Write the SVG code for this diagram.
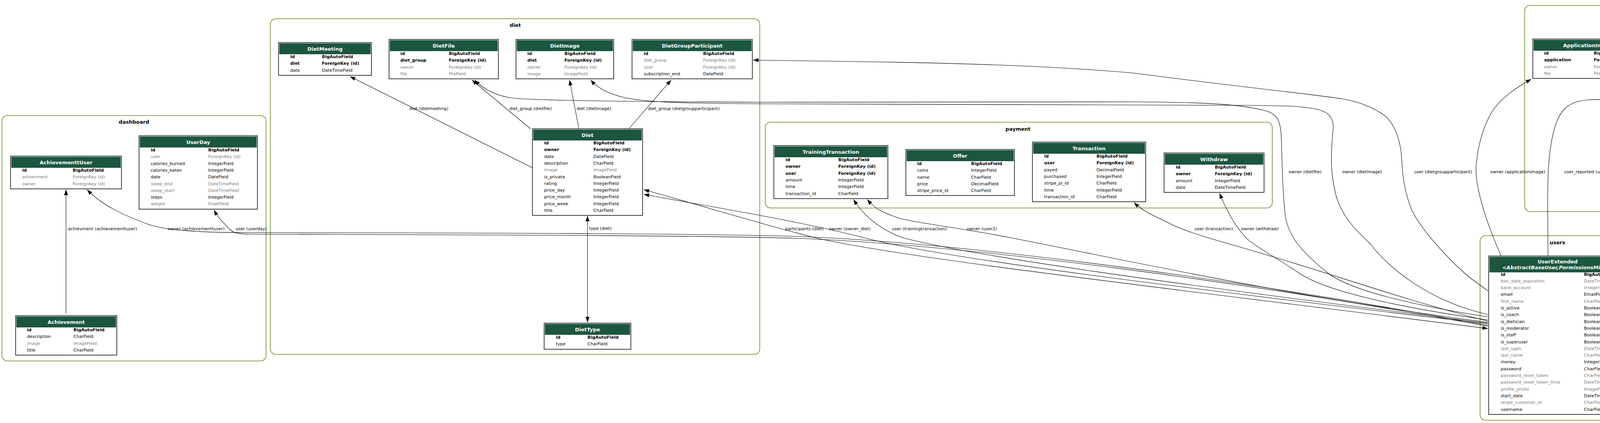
<svg xmlns="http://www.w3.org/2000/svg" width="7240" height="1084" viewBox="0 0 7240 1084">
<style>
.cl{fill:none;stroke:#698b22;stroke-width:1.6}
.ct{font-family:"DejaVu Sans",sans-serif;font-size:13px;font-weight:bold;text-anchor:middle;dominant-baseline:central;fill:#000}
.tb{fill:#fff;stroke:#000;stroke-width:1.5}
.hd{fill:#1b563f}
.ht{font-family:"DejaVu Sans",sans-serif;font-size:13px;font-weight:bold;fill:#fff;text-anchor:middle;dominant-baseline:central}
.r{font-family:"DejaVu Sans",sans-serif;font-size:11px;dominant-baseline:central;fill:#000}
.b{font-weight:bold}
.g{fill:#7b7b7b}
.i{font-style:italic}
.e{fill:none;stroke:#000;stroke-width:1.1;marker-end:url(#ah)}
.e2{marker-start:url(#ah)}
.el{font-family:"DejaVu Sans",sans-serif;font-size:11px;dominant-baseline:central;fill:#000}
</style>
<defs>
<marker id="ah" viewBox="0 0 14 10" refX="14" refY="5" markerWidth="14" markerHeight="10" markerUnits="userSpaceOnUse" orient="auto-start-reverse"><path d="M0,0L14,5L0,10z" fill="#000"/></marker>
</defs>
<rect width="7240" height="1084" fill="#fff"/>
<g id="clusters">
<rect class="cl" x="5" y="296" width="676" height="629" rx="14"/><text class="ct" x="343" y="312">dashboard</text>
<rect class="cl" x="692" y="48" width="1253" height="860" rx="14"/><text class="ct" x="1319" y="64">diet</text>
<rect class="cl" x="1959" y="313" width="1298" height="220" rx="14"/><text class="ct" x="2606" y="330">payment</text>
<rect class="cl" x="3903" y="14" width="669" height="528" rx="14"/><text class="ct" x="4238" y="31">moderator</text>
<rect class="cl" x="4634" y="40" width="292" height="467" rx="14"/><text class="ct" x="4779" y="57">forum</text>
<rect class="cl" x="5056" y="322" width="595" height="203" rx="14"/><text class="ct" x="5353" y="339">message</text>
<rect class="cl" x="5833" y="5" width="1401" height="913" rx="14"/><text class="ct" x="6532" y="22">training</text>
<rect class="cl" x="3789" y="604" width="397" height="473" rx="14"/><text class="ct" x="3987" y="621">users</text>
</g>
<g id="connectors">
<path class="e" d="M169,803L169,486"/>
<path class="e" d="M3809,834C3200,720 2500,625 2050,606C1800,598 1200,597 640,596C520,596 430,592 380,575C320,553 262,527 223,486"/>
<path class="e" d="M3809,836C3200,724 2500,630 2050,611C1800,603 1200,602 640,600C612,600 598,597 588,588C572,570 558,558 548,538"/>
<path class="e e2" d="M3809,842C3000,740 2300,660 2086,609C1950,575 1780,522 1648,486"/>
<path class="e" d="M3809,830C3000,735 2400,660 2211,609C2050,567 1820,530 1648,498"/>
<path class="e" d="M3809,828C3100,740 2500,660 2310,609C2260,590 2215,560 2185,511"/>
<path class="e" d="M3809,826C3300,760 2900,670 2586,609C2450,582 2330,570 2296,557C2260,545 2240,535 2220,511"/>
<path class="e" d="M3809,823C3600,770 3450,715 3252,656C3150,625 3050,600 3001,576C2960,555 2930,545 2903,519"/>
<path class="e" d="M3809,820C3600,790 3400,750 3326,700C3260,655 3200,625 3184,603C3160,575 3140,540 3122,495"/>
<path class="e" d="M3809,812C3600,780 3450,740 3400,700C3330,645 3295,600 3290,549C3282,480 3282,400 3280,348C3278,310 3270,292 3240,284C3180,268 3100,262 2900,261L1945,262C1600,260 1350,258 1304,250C1260,242 1235,225 1215,205"/>
<path class="e" d="M3809,806C3650,770 3550,680 3508,625C3460,580 3434,549 3420,500C3405,440 3407,400 3412,339C3418,300 3400,285 3366,279C3330,272 3300,271 3200,270L1945,266C1750,265 1650,262 1599,250C1555,240 1530,225 1512,205"/>
<path class="e" d="M3809,745C3780,725 3760,710 3745,696C3700,655 3640,590 3615,540C3590,480 3590,430 3588,402C3585,360 3570,310 3536,290C3500,268 3470,260 3441,254C3350,240 3200,226 2900,187C2600,160 2200,158 1928,154"/>
<path class="e" d="M3843,656C3800,560 3775,470 3779,424C3785,360 3800,320 3820,285C3845,250 3880,225 3920,203"/>
<path class="e" d="M3963,656L3962,520C3962,430 3966,370 3983,317C3995,285 4010,268 4040,260C4080,250 4120,258 4168,260C4200,262 4225,255 4251,238"/>
<path class="e" d="M4163,656C4190,620 4230,570 4263,529"/>
<path class="e" d="M4166,800C4280,760 4400,690 4470,600C4530,530 4540,470 4530,410C4515,340 4495,290 4474,238"/>
<path class="e" d="M4166,777C4300,710 4450,650 4560,590C4620,555 4670,530 4703,494"/>
<path class="e" d="M4166,822C4500,800 4830,700 4881,600C4930,510 4985,470 4968,400C4955,330 4900,250 4867,212"/>
<path class="e" d="M4166,825C4550,800 4870,660 4964,600C5010,570 5040,560 5065,548C5090,535 5110,522 5131,503"/>
<path class="e" d="M4166,828C4600,805 5030,680 5099,600C5130,565 5160,530 5180,503"/>
<path class="e" d="M4166,831C4650,810 5100,660 5203,600C5230,588 5300,580 5340,565C5375,550 5400,535 5424,512"/>
<path class="e" d="M4166,834C4900,800 5520,700 5599,600C5650,540 5675,470 5685,420C5695,360 5700,300 5740,260C5770,230 5800,212 5853,200"/>
<path class="e e2" d="M4166,852C5000,830 5720,700 5830,600C5880,555 5905,490 5914,440C5925,380 5930,300 5968,264C6000,235 6040,250 6080,256C6130,263 6170,260 6210,246"/>
<path class="e" d="M4166,836C5100,810 5950,700 6098,600C6085,540 6078,490 6078,440C6078,360 6085,300 6108,275C6150,240 6250,253 6350,253L6526,253C6570,253 6600,235 6625,203"/>
<path class="e" d="M4166,839C5200,815 6150,720 6270,600C6290,560 6282,490 6282,440C6282,360 6290,300 6317,275C6350,250 6420,253 6500,253L6860,253C6920,253 6955,235 6979,203"/>
<path class="e" d="M4166,844C5200,830 5950,660 6108,600C6200,570 6320,590 6396,574C6430,566 6460,560 6495,550"/>
<path class="e" d="M6513,330C6490,300 6470,290 6420,288C6360,287 6300,282 6250,270C6180,250 6130,240 6098,203"/>
<path class="e" d="M6606,330C6595,290 6570,265 6526,247"/>
<path class="e" d="M6732,330C6748,280 6760,250 6743,203"/>
<path class="e" d="M6785,388C6880,330 6950,300 6985,270C7005,250 7020,230 7028,203"/>
<path class="e e2" d="M6637,554L6637,816"/>
<path class="e" d="M4253,357L4120,203"/>
<path class="e e2" d="M4780,389L4780,212"/>
<path class="e" d="M1363,430L896,196"/>
<path class="e" d="M1358,330L1208,205"/>
<path class="e" d="M1482,330L1458,205"/>
<path class="e" d="M1610,330L1718,205"/>
<path class="e e2" d="M1504,553L1504,826"/>
<text class="el" x="174" y="586">achievment (achievementtuser)</text>
<text class="el" x="429" y="586">owner (achievementtuser)</text>
<text class="el" x="603" y="586">user (userday)</text>
<text class="el" x="1048" y="278">diet (dietmeeting)</text>
<text class="el" x="1304" y="278">diet_group (dietfile)</text>
<text class="el" x="1476" y="278">diet (dietimage)</text>
<text class="el" x="1659" y="278">diet_group (dietgroupparticipant)</text>
<text class="el" x="1508" y="585">type (diet)</text>
<text class="el" x="2010" y="586">participants (diet)</text>
<text class="el" x="2122" y="586">owner (owner_diet)</text>
<text class="el" x="2283" y="586">user (trainingtransaction)</text>
<text class="el" x="2475" y="586">owner (user2)</text>
<text class="el" x="3058" y="586">user (transaction)</text>
<text class="el" x="3177" y="586">owner (withdraw)</text>
<text class="el" x="3299" y="440">owner (dietfile)</text>
<text class="el" x="3436" y="440">owner (dietimage)</text>
<text class="el" x="3620" y="440">user (dietgroupparticipant)</text>
<text class="el" x="3815" y="440">owner (applicationimage)</text>
<text class="el" x="4004" y="440">user_reported (user_reported)</text>
<text class="el" x="4188" y="278">application (applicationimage)</text>
<text class="el" x="4218" y="586">owner (application)</text>
<text class="el" x="4536" y="440">owner (report)</text>
<text class="el" x="4574" y="586">owner (post)</text>
<text class="el" x="4785" y="278">posts (topic)</text>
<text class="el" x="4974" y="440">owner (topic)</text>
<text class="el" x="5014" y="586">sender (sender)</text>
<text class="el" x="5124" y="586">receiver (receiver)</text>
<text class="el" x="5299" y="586">user (notification)</text>
<text class="el" x="5710" y="440">user (traininggroupparticipant)</text>
<text class="el" x="5936" y="440">participants (training)</text>
<text class="el" x="6108" y="440">owner (traininggroupimage)</text>
<text class="el" x="6303" y="440">owner (traininggroupvideo)</text>
<text class="el" x="6396" y="586">owner (owner)</text>
<text class="el" x="6640" y="586">type (traininggroup)</text>
<text class="el" x="6344" y="278">training_group (traininggroupparticipant)</text>
<text class="el" x="6594" y="278">training_group (training)</text>
<text class="el" x="6762" y="278">training_group (traininggroupimage)</text>
<text class="el" x="6984" y="278">training_group (traininggroupvideo)</text>
</g>
<g id="n-AchievementtUser" transform="translate(27,400)">
<rect class="tb" width="284" height="84"/><rect class="hd" x="2" y="2" width="280" height="28"/><text class="ht" x="142" y="16">AchievementtUser</text>
<text class="r b" x="30" y="36.5">id</text><text class="r b" x="159" y="36.5">BigAutoField</text>
<text class="r g" x="30" y="53.8">achievment</text><text class="r g" x="159" y="53.8">ForeignKey (id)</text>
<text class="r g" x="30" y="71.1">owner</text><text class="r g" x="159" y="71.1">ForeignKey (id)</text>
</g>
<g id="n-UserDay" transform="translate(356,348)">
<rect class="tb" width="303" height="188"/><rect class="hd" x="2" y="2" width="299" height="28"/><text class="ht" x="151.5" y="16">UserDay</text>
<text class="r b" x="30" y="36.5">id</text><text class="r b" x="177" y="36.5">BigAutoField</text>
<text class="r g" x="30" y="53.8">user</text><text class="r g" x="177" y="53.8">ForeignKey (id)</text>
<text class="r" x="30" y="71.1">calories_burned</text><text class="r" x="177" y="71.1">IntegerField</text>
<text class="r" x="30" y="88.4">calories_eaten</text><text class="r" x="177" y="88.4">IntegerField</text>
<text class="r" x="30" y="105.7">date</text><text class="r" x="177" y="105.7">DateField</text>
<text class="r g" x="30" y="123">sleep_end</text><text class="r g" x="177" y="123">DateTimeField</text>
<text class="r g" x="30" y="140.3">sleep_start</text><text class="r g" x="177" y="140.3">DateTimeField</text>
<text class="r" x="30" y="157.6">steps</text><text class="r" x="177" y="157.6">IntegerField</text>
<text class="r g" x="30" y="174.9">weight</text><text class="r g" x="177" y="174.9">FloatField</text>
</g>
<g id="n-Achievement" transform="translate(40,809)">
<rect class="tb" width="259" height="101"/><rect class="hd" x="2" y="2" width="255" height="28"/><text class="ht" x="129.5" y="16">Achievement</text>
<text class="r b" x="29" y="36.5">id</text><text class="r b" x="148" y="36.5">BigAutoField</text>
<text class="r" x="29" y="53.8">description</text><text class="r" x="148" y="53.8">CharField</text>
<text class="r g" x="29" y="71.1">image</text><text class="r g" x="148" y="71.1">ImageField</text>
<text class="r" x="29" y="88.4">title</text><text class="r" x="148" y="88.4">CharField</text>
</g>
<g id="n-DietMeeting" transform="translate(713,109)">
<rect class="tb" width="238" height="84"/><rect class="hd" x="2" y="2" width="234" height="28"/><text class="ht" x="119" y="16">DietMeeting</text>
<text class="r b" x="30" y="36.5">id</text><text class="r b" x="111" y="36.5">BigAutoField</text>
<text class="r b" x="30" y="53.8">diet</text><text class="r b" x="111" y="53.8">ForeignKey (id)</text>
<text class="r" x="30" y="71.1">date</text><text class="r" x="111" y="71.1">DateTimeField</text>
</g>
<g id="n-DietFile" transform="translate(996,101)">
<rect class="tb" width="280" height="101"/><rect class="hd" x="2" y="2" width="276" height="28"/><text class="ht" x="140" y="16">DietFile</text>
<text class="r b" x="29" y="36.5">id</text><text class="r b" x="153" y="36.5">BigAutoField</text>
<text class="r b" x="29" y="53.8">diet_group</text><text class="r b" x="153" y="53.8">ForeignKey (id)</text>
<text class="r g" x="29" y="71.1">owner</text><text class="r g" x="153" y="71.1">ForeignKey (id)</text>
<text class="r g" x="29" y="88.4">file</text><text class="r g" x="153" y="88.4">FileField</text>
</g>
<g id="n-DietImage" transform="translate(1321,101)">
<rect class="tb" width="250" height="101"/><rect class="hd" x="2" y="2" width="246" height="28"/><text class="ht" x="125" y="16">DietImage</text>
<text class="r b" x="29" y="36.5">id</text><text class="r b" x="124" y="36.5">BigAutoField</text>
<text class="r b" x="29" y="53.8">diet</text><text class="r b" x="124" y="53.8">ForeignKey (id)</text>
<text class="r g" x="29" y="71.1">owner</text><text class="r g" x="124" y="71.1">ForeignKey (id)</text>
<text class="r g" x="29" y="88.4">image</text><text class="r g" x="124" y="88.4">ImageField</text>
</g>
<g id="n-DietGroupParticipant" transform="translate(1618,101)">
<rect class="tb" width="308" height="101"/><rect class="hd" x="2" y="2" width="304" height="28"/><text class="ht" x="154" y="16">DietGroupParticipant</text>
<text class="r b" x="30" y="36.5">id</text><text class="r b" x="182" y="36.5">BigAutoField</text>
<text class="r g" x="30" y="53.8">diet_group</text><text class="r g" x="182" y="53.8">ForeignKey (id)</text>
<text class="r g" x="30" y="71.1">user</text><text class="r g" x="182" y="71.1">ForeignKey (id)</text>
<text class="r" x="30" y="88.4">subscription_end</text><text class="r" x="182" y="88.4">DateField</text>
</g>
<g id="n-Diet" transform="translate(1363,330)">
<rect class="tb" width="282" height="222"/><rect class="hd" x="2" y="2" width="278" height="28"/><text class="ht" x="141" y="16">Diet</text>
<text class="r b" x="30" y="36.5">id</text><text class="r b" x="156" y="36.5">BigAutoField</text>
<text class="r b" x="30" y="53.8">owner</text><text class="r b" x="156" y="53.8">ForeignKey (id)</text>
<text class="r" x="30" y="71.1">date</text><text class="r" x="156" y="71.1">DateField</text>
<text class="r" x="30" y="88.4">description</text><text class="r" x="156" y="88.4">CharField</text>
<text class="r g" x="30" y="105.7">image</text><text class="r g" x="156" y="105.7">ImageField</text>
<text class="r" x="30" y="123">is_private</text><text class="r" x="156" y="123">BooleanField</text>
<text class="r" x="30" y="140.3">rating</text><text class="r" x="156" y="140.3">IntegerField</text>
<text class="r" x="30" y="157.6">price_day</text><text class="r" x="156" y="157.6">IntegerField</text>
<text class="r" x="30" y="174.9">price_month</text><text class="r" x="156" y="174.9">IntegerField</text>
<text class="r" x="30" y="192.2">price_week</text><text class="r" x="156" y="192.2">IntegerField</text>
<text class="r" x="30" y="209.5">title</text><text class="r" x="156" y="209.5">CharField</text>
</g>
<g id="n-DietType" transform="translate(1393,828)">
<rect class="tb" width="222" height="67"/><rect class="hd" x="2" y="2" width="218" height="28"/><text class="ht" x="111" y="16">DietType</text>
<text class="r b" x="30" y="36.5">id</text><text class="r b" x="111" y="36.5">BigAutoField</text>
<text class="r" x="30" y="53.8">type</text><text class="r" x="111" y="53.8">CharField</text>
</g>
<g id="n-TrainingTransaction" transform="translate(1981,373)">
<rect class="tb" width="292" height="136"/><rect class="hd" x="2" y="2" width="288" height="28"/><text class="ht" x="146" y="16">TrainingTransaction</text>
<text class="r b" x="30" y="36.5">id</text><text class="r b" x="165" y="36.5">BigAutoField</text>
<text class="r b" x="30" y="53.8">owner</text><text class="r b" x="165" y="53.8">ForeignKey (id)</text>
<text class="r b" x="30" y="71.1">user</text><text class="r b" x="165" y="71.1">ForeignKey (id)</text>
<text class="r" x="30" y="88.4">amount</text><text class="r" x="165" y="88.4">IntegerField</text>
<text class="r" x="30" y="105.7">time</text><text class="r" x="165" y="105.7">IntegerField</text>
<text class="r" x="30" y="123">transaction_id</text><text class="r" x="165" y="123">CharField</text>
</g>
<g id="n-Offer" transform="translate(2319,383)">
<rect class="tb" width="278" height="118"/><rect class="hd" x="2" y="2" width="274" height="28"/><text class="ht" x="139" y="16">Offer</text>
<text class="r b" x="29" y="36.5">id</text><text class="r b" x="167" y="36.5">BigAutoField</text>
<text class="r" x="29" y="53.8">coins</text><text class="r" x="167" y="53.8">IntegerField</text>
<text class="r" x="29" y="71.1">name</text><text class="r" x="167" y="71.1">CharField</text>
<text class="r" x="29" y="88.4">price</text><text class="r" x="167" y="88.4">DecimalField</text>
<text class="r" x="29" y="105.7">stripe_price_id</text><text class="r" x="167" y="105.7">CharField</text>
</g>
<g id="n-Transaction" transform="translate(2643,364)">
<rect class="tb" width="290" height="153"/><rect class="hd" x="2" y="2" width="286" height="28"/><text class="ht" x="145" y="16">Transaction</text>
<text class="r b" x="30" y="36.5">id</text><text class="r b" x="164" y="36.5">BigAutoField</text>
<text class="r b" x="30" y="53.8">user</text><text class="r b" x="164" y="53.8">ForeignKey (id)</text>
<text class="r" x="30" y="71.1">payed</text><text class="r" x="164" y="71.1">DecimalField</text>
<text class="r" x="30" y="88.4">purchased</text><text class="r" x="164" y="88.4">IntegerField</text>
<text class="r" x="30" y="105.7">stripe_pi_id</text><text class="r" x="164" y="105.7">CharField</text>
<text class="r" x="30" y="123">time</text><text class="r" x="164" y="123">IntegerField</text>
<text class="r" x="30" y="140.3">transaction_id</text><text class="r" x="164" y="140.3">CharField</text>
</g>
<g id="n-Withdraw" transform="translate(2980,392)">
<rect class="tb" width="256" height="101"/><rect class="hd" x="2" y="2" width="252" height="28"/><text class="ht" x="128" y="16">Withdraw</text>
<text class="r b" x="30" y="36.5">id</text><text class="r b" x="130" y="36.5">BigAutoField</text>
<text class="r b" x="30" y="53.8">owner</text><text class="r b" x="130" y="53.8">ForeignKey (id)</text>
<text class="r" x="30" y="71.1">amount</text><text class="r" x="130" y="71.1">IntegerField</text>
<text class="r" x="30" y="88.4">date</text><text class="r" x="130" y="88.4">DateTimeField</text>
</g>
<g id="n-ApplicationImage" transform="translate(3924,100)">
<rect class="tb" width="283" height="101"/><rect class="hd" x="2" y="2" width="279" height="28"/><text class="ht" x="141.5" y="16">ApplicationImage</text>
<text class="r b" x="29" y="36.5">id</text><text class="r b" x="156" y="36.5">BigAutoField</text>
<text class="r b" x="29" y="53.8">application</text><text class="r b" x="156" y="53.8">ForeignKey (id)</text>
<text class="r g" x="29" y="71.1">owner</text><text class="r g" x="156" y="71.1">ForeignKey (id)</text>
<text class="r g" x="29" y="88.4">file</text><text class="r g" x="156" y="88.4">FileField</text>
</g>
<g id="n-Report" transform="translate(4252,66)">
<rect class="tb" width="299" height="170"/><rect class="hd" x="2" y="2" width="295" height="28"/><text class="ht" x="149.5" y="16">Report</text>
<text class="r b" x="29" y="36.5">id</text><text class="r b" x="172" y="36.5">BigAutoField</text>
<text class="r g" x="29" y="53.8">owner</text><text class="r g" x="172" y="53.8">ForeignKey (id)</text>
<text class="r b" x="29" y="71.1">user_reported</text><text class="r b" x="172" y="71.1">ForeignKey (id)</text>
<text class="r" x="29" y="88.4">date</text><text class="r" x="172" y="88.4">DateTimeField</text>
<text class="r" x="29" y="105.7">description</text><text class="r" x="172" y="105.7">CharField</text>
<text class="r g" x="29" y="123">file</text><text class="r g" x="172" y="123">FileField</text>
<text class="r" x="29" y="140.3">is_solved</text><text class="r" x="172" y="140.3">BooleanField</text>
<text class="r" x="29" y="157.6">title</text><text class="r" x="172" y="157.6">CharField</text>
</g>
<g id="n-Application" transform="translate(4200,357)">
<rect class="tb" width="275" height="170"/><rect class="hd" x="2" y="2" width="271" height="28"/><text class="ht" x="137.5" y="16">Application</text>
<text class="r b" x="29" y="36.5">id</text><text class="r b" x="148" y="36.5">BigAutoField</text>
<text class="r g" x="29" y="53.8">owner</text><text class="r g" x="148" y="53.8">ForeignKey (id)</text>
<text class="r" x="29" y="71.1">date</text><text class="r" x="148" y="71.1">DateTimeField</text>
<text class="r" x="29" y="88.4">description</text><text class="r" x="148" y="88.4">CharField</text>
<text class="r" x="29" y="105.7">dietician</text><text class="r" x="148" y="105.7">BooleanField</text>
<text class="r g" x="29" y="123">file</text><text class="r g" x="148" y="123">FileField</text>
<text class="r" x="29" y="140.3">status</text><text class="r" x="148" y="140.3">CharField</text>
<text class="r" x="29" y="157.6">trainer</text><text class="r" x="148" y="157.6">BooleanField</text>
</g>
<g id="n-Topic" transform="translate(4655,92)">
<rect class="tb" width="250" height="118"/><rect class="hd" x="2" y="2" width="246" height="28"/><text class="ht" x="125" y="16">Topic</text>
<text class="r b" x="29" y="36.5">id</text><text class="r b" x="124" y="36.5">BigAutoField</text>
<text class="r b" x="29" y="53.8">owner</text><text class="r b" x="124" y="53.8">ForeignKey (id)</text>
<text class="r" x="29" y="71.1">body</text><text class="r" x="124" y="71.1">CharField</text>
<text class="r" x="29" y="88.4">date</text><text class="r" x="124" y="88.4">DateTimeField</text>
<text class="r" x="29" y="105.7">title</text><text class="r" x="124" y="105.7">CharField</text>
</g>
<g id="n-Post" transform="translate(4655,391)">
<rect class="tb" width="250" height="101"/><rect class="hd" x="2" y="2" width="246" height="28"/><text class="ht" x="125" y="16">Post</text>
<text class="r b" x="29" y="36.5">id</text><text class="r b" x="124" y="36.5">BigAutoField</text>
<text class="r b" x="29" y="53.8">owner</text><text class="r b" x="124" y="53.8">ForeignKey (id)</text>
<text class="r" x="29" y="71.1">body</text><text class="r" x="124" y="71.1">CharField</text>
<text class="r" x="29" y="88.4">date</text><text class="r" x="124" y="88.4">DateTimeField</text>
</g>
<g id="n-Message" transform="translate(5077,383)">
<rect class="tb" width="264" height="118"/><rect class="hd" x="2" y="2" width="260" height="28"/><text class="ht" x="132" y="16">Message</text>
<text class="r b" x="29" y="36.5">id</text><text class="r b" x="138" y="36.5">BigAutoField</text>
<text class="r b" x="29" y="53.8">receiver</text><text class="r b" x="138" y="53.8">ForeignKey (id)</text>
<text class="r b" x="29" y="71.1">sender</text><text class="r b" x="138" y="71.1">ForeignKey (id)</text>
<text class="r" x="29" y="88.4">message</text><text class="r" x="138" y="88.4">CharField</text>
<text class="r" x="29" y="105.7">time</text><text class="r" x="138" y="105.7">IntegerField</text>
</g>
<g id="n-Notification" transform="translate(5387,374)">
<rect class="tb" width="242" height="136"/><rect class="hd" x="2" y="2" width="238" height="28"/><text class="ht" x="121" y="16">Notification</text>
<text class="r b" x="30" y="36.5">id</text><text class="r b" x="116" y="36.5">BigAutoField</text>
<text class="r b" x="30" y="53.8">user</text><text class="r b" x="116" y="53.8">ForeignKey (id)</text>
<text class="r" x="30" y="71.1">body</text><text class="r" x="116" y="71.1">CharField</text>
<text class="r" x="30" y="88.4">kind</text><text class="r" x="116" y="88.4">CharField</text>
<text class="r" x="30" y="105.7">seen</text><text class="r" x="116" y="105.7">BooleanField</text>
<text class="r" x="30" y="123">time</text><text class="r" x="116" y="123">IntegerField</text>
</g>
<g id="n-TrainingGroupParticipant" transform="translate(5855,100)">
<rect class="tb" width="310" height="101"/><rect class="hd" x="2" y="2" width="306" height="28"/><text class="ht" x="155" y="16">TrainingGroupParticipant</text>
<text class="r b" x="30" y="36.5">id</text><text class="r b" x="184" y="36.5">BigAutoField</text>
<text class="r g" x="30" y="53.8">training_group</text><text class="r g" x="184" y="53.8">ForeignKey (id)</text>
<text class="r g" x="30" y="71.1">user</text><text class="r g" x="184" y="71.1">ForeignKey (id)</text>
<text class="r" x="30" y="88.4">subscription_end</text><text class="r" x="184" y="88.4">DateField</text>
</g>
<g id="n-Training" transform="translate(6212,57)">
<rect class="tb" width="307" height="188"/><rect class="hd" x="2" y="2" width="303" height="28"/><text class="ht" x="153.5" y="16">Training</text>
<text class="r b" x="30" y="36.5">id</text><text class="r b" x="181" y="36.5">BigAutoField</text>
<text class="r b" x="30" y="53.8">training_group</text><text class="r b" x="181" y="53.8">ForeignKey (id)</text>
<text class="r" x="30" y="71.1">calories</text><text class="r" x="181" y="71.1">IntegerField</text>
<text class="r" x="30" y="88.4">date_end</text><text class="r" x="181" y="88.4">DateTimeField</text>
<text class="r" x="30" y="105.7">date_start</text><text class="r" x="181" y="105.7">DateTimeField</text>
<text class="r" x="30" y="123">description</text><text class="r" x="181" y="123">CharField</text>
<text class="r g" x="30" y="140.3">file</text><text class="r g" x="181" y="140.3">FileField</text>
<text class="r" x="30" y="157.6">ping</text><text class="r" x="181" y="157.6">IntegerField</text>
<text class="r" x="30" y="174.9">title</text><text class="r" x="181" y="174.9">CharField</text>
</g>
<g id="n-TrainingGroupImage" transform="translate(6566,100)">
<rect class="tb" width="308" height="101"/><rect class="hd" x="2" y="2" width="304" height="28"/><text class="ht" x="154" y="16">TrainingGroupImage</text>
<text class="r b" x="30" y="36.5">id</text><text class="r b" x="181" y="36.5">BigAutoField</text>
<text class="r g" x="30" y="53.8">owner</text><text class="r g" x="181" y="53.8">ForeignKey (id)</text>
<text class="r b" x="30" y="71.1">training_group</text><text class="r b" x="181" y="71.1">ForeignKey (id)</text>
<text class="r g" x="30" y="88.4">image</text><text class="r g" x="181" y="88.4">ImageField</text>
</g>
<g id="n-TrainingGroupVideo" transform="translate(6920,100)">
<rect class="tb" width="308" height="101"/><rect class="hd" x="2" y="2" width="304" height="28"/><text class="ht" x="154" y="16">TrainingGroupVideo</text>
<text class="r b" x="30" y="36.5">id</text><text class="r b" x="181" y="36.5">BigAutoField</text>
<text class="r g" x="30" y="53.8">owner</text><text class="r g" x="181" y="53.8">ForeignKey (id)</text>
<text class="r b" x="30" y="71.1">training_group</text><text class="r b" x="181" y="71.1">ForeignKey (id)</text>
<text class="r g" x="30" y="88.4">video</text><text class="r g" x="181" y="88.4">FileField</text>
</g>
<g id="n-TrainingGroup" transform="translate(6499,330)">
<rect class="tb" width="285" height="222"/><rect class="hd" x="2" y="2" width="281" height="28"/><text class="ht" x="142.5" y="16">TrainingGroup</text>
<text class="r b" x="28" y="36.5">id</text><text class="r b" x="157" y="36.5">BigAutoField</text>
<text class="r b" x="28" y="53.8">owner</text><text class="r b" x="157" y="53.8">ForeignKey (id)</text>
<text class="r" x="28" y="71.1">date</text><text class="r" x="157" y="71.1">DateField</text>
<text class="r" x="28" y="88.4">description</text><text class="r" x="157" y="88.4">CharField</text>
<text class="r" x="28" y="105.7">difficulty</text><text class="r" x="157" y="105.7">CharField</text>
<text class="r g" x="28" y="123">image</text><text class="r g" x="157" y="123">ImageField</text>
<text class="r" x="28" y="140.3">is_private</text><text class="r" x="157" y="140.3">BooleanField</text>
<text class="r" x="28" y="157.6">price_day</text><text class="r" x="157" y="157.6">IntegerField</text>
<text class="r" x="28" y="174.9">price_month</text><text class="r" x="157" y="174.9">IntegerField</text>
<text class="r" x="28" y="192.2">price_week</text><text class="r" x="157" y="192.2">IntegerField</text>
<text class="r" x="28" y="209.5">title</text><text class="r" x="157" y="209.5">CharField</text>
</g>
<g id="n-TrainingType" transform="translate(6530,818)">
<rect class="tb" width="222" height="84"/><rect class="hd" x="2" y="2" width="218" height="28"/><text class="ht" x="111" y="16">TrainingType</text>
<text class="r b" x="30" y="36.5">id</text><text class="r b" x="111" y="36.5">BigAutoField</text>
<text class="r" x="30" y="53.8">description</text><text class="r" x="111" y="53.8">CharField</text>
<text class="r" x="30" y="71.1">type</text><text class="r" x="111" y="71.1">CharField</text>
</g>
<g id="n-UserExtended" transform="translate(3811,656)">
<rect class="tb" width="353" height="406"/><rect class="hd" x="2" y="2" width="349" height="40"/>
<text class="ht" x="176.5" y="14">UserExtended</text>
<text class="ht i" x="176.5" y="29">&lt;AbstractBaseUser,PermissionsMixin&gt;</text>
<text class="r b" x="31" y="47">id</text><text class="r b" x="244" y="47">BigAutoField</text>
<text class="r g" x="31" y="64.3">ban_date_expiration</text><text class="r g" x="244" y="64.3">DateTimeField</text>
<text class="r g" x="31" y="81.6">bank_account</text><text class="r g" x="244" y="81.6">IntegerField</text>
<text class="r" x="31" y="98.9">email</text><text class="r" x="244" y="98.9">EmailField</text>
<text class="r g" x="31" y="116.2">first_name</text><text class="r g" x="244" y="116.2">CharField</text>
<text class="r" x="31" y="133.5">is_active</text><text class="r" x="244" y="133.5">BooleanField</text>
<text class="r" x="31" y="150.8">is_coach</text><text class="r" x="244" y="150.8">BooleanField</text>
<text class="r" x="31" y="168.1">is_dietician</text><text class="r" x="244" y="168.1">BooleanField</text>
<text class="r" x="31" y="185.4">is_moderator</text><text class="r" x="244" y="185.4">BooleanField</text>
<text class="r" x="31" y="202.7">is_staff</text><text class="r" x="244" y="202.7">BooleanField</text>
<text class="r" x="31" y="220">is_superuser</text><text class="r" x="244" y="220">BooleanField</text>
<text class="r g i" x="31" y="237.3">last_login</text><text class="r g i" x="244" y="237.3">DateTimeField</text>
<text class="r g" x="31" y="254.6">last_name</text><text class="r g" x="244" y="254.6">CharField</text>
<text class="r" x="31" y="271.9">money</text><text class="r" x="244" y="271.9">IntegerField</text>
<text class="r i" x="31" y="289.2">password</text><text class="r i" x="244" y="289.2">CharField</text>
<text class="r g" x="31" y="306.5">password_reset_token</text><text class="r g" x="244" y="306.5">CharField</text>
<text class="r g" x="31" y="323.8">password_reset_token_time</text><text class="r g" x="244" y="323.8">DateTimeField</text>
<text class="r g" x="31" y="341.1">profile_photo</text><text class="r g" x="244" y="341.1">ImageField</text>
<text class="r" x="31" y="358.4">start_date</text><text class="r" x="244" y="358.4">DateTimeField</text>
<text class="r g" x="31" y="375.7">stripe_customer_id</text><text class="r g" x="244" y="375.7">CharField</text>
<text class="r" x="31" y="393">username</text><text class="r" x="244" y="393">CharField</text>
</g>
</svg>
